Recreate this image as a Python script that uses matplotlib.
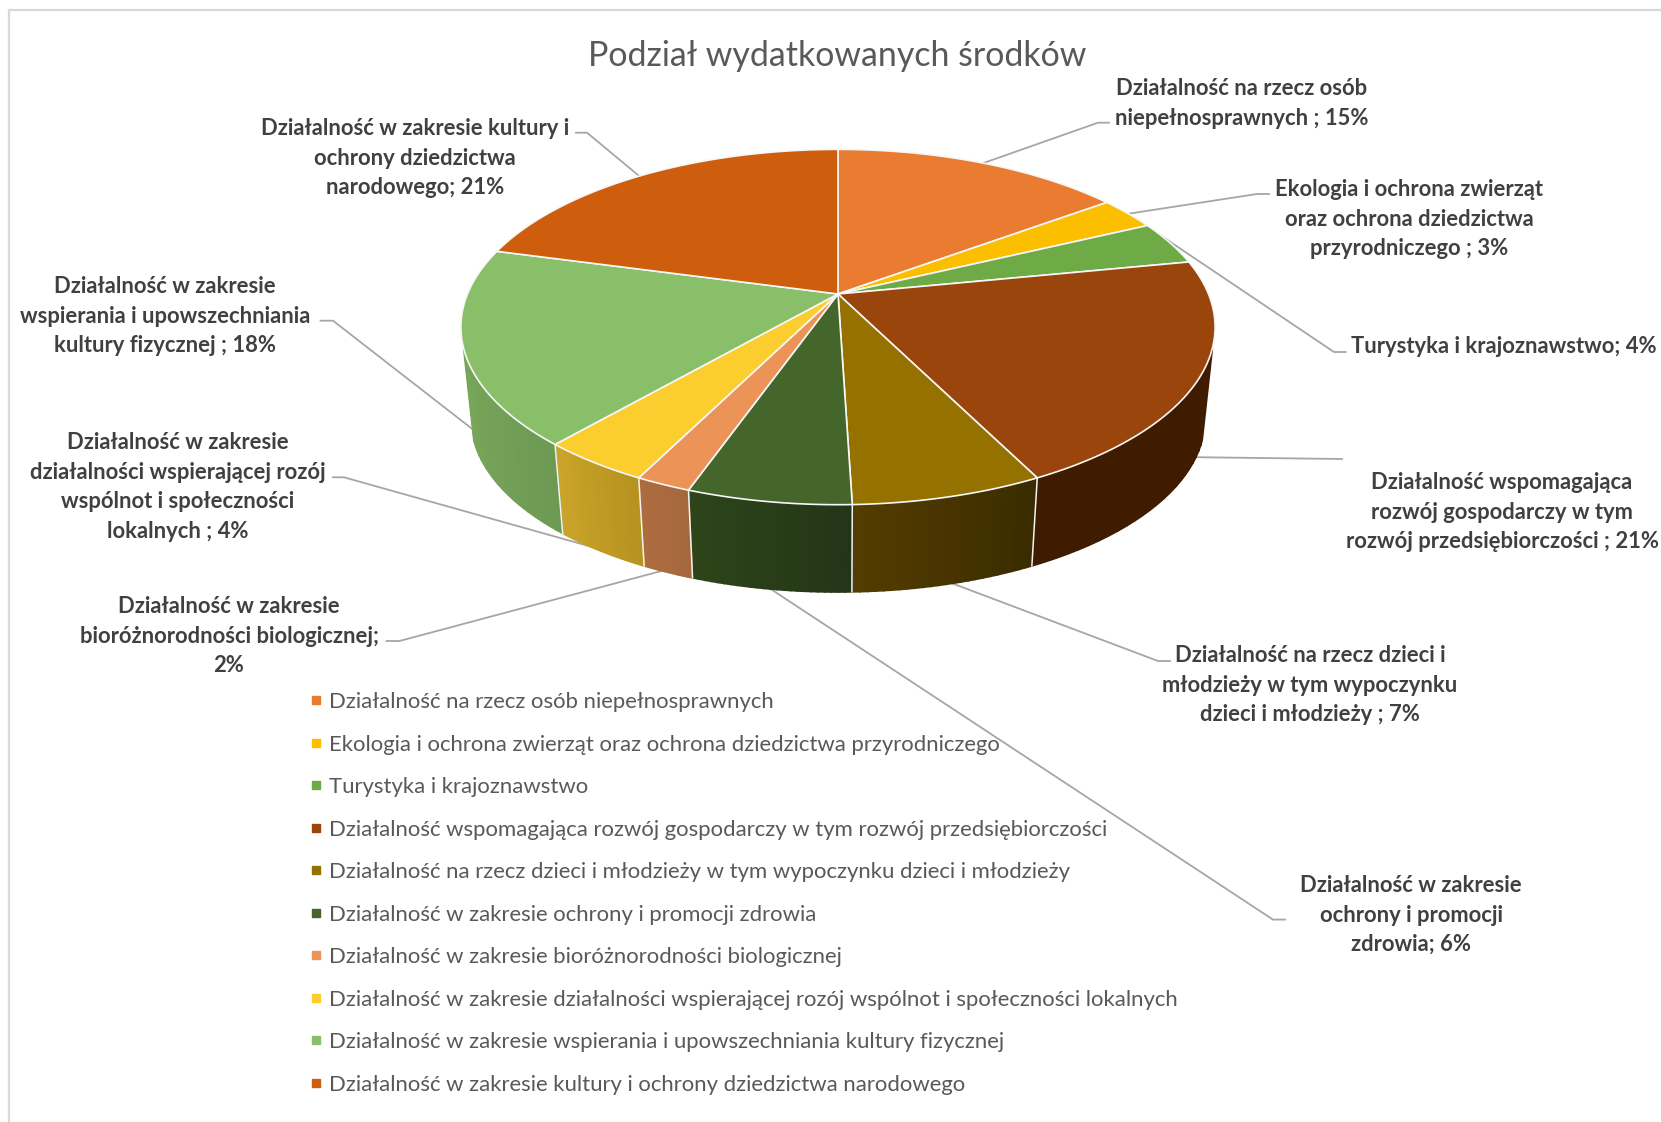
#3d pie of spending shares, drawn by hand because matplotlib has no perspective pie
import numpy as np
import matplotlib
matplotlib.use("Agg")
import matplotlib.pyplot as plt
from matplotlib.lines import Line2D
from matplotlib.patches import Polygon

plt.rcParams["font.family"] = ["Lato", "DejaVu Sans"]

TITLE = "Podział wydatkowanych środków"

categories = [
    "Działalność na rzecz osób niepełnosprawnych",
    "Ekologia i ochrona zwierząt oraz ochrona dziedzictwa przyrodniczego",
    "Turystyka i krajoznawstwo",
    "Działalność wspomagająca rozwój gospodarczy w tym rozwój przedsiębiorczości",
    "Działalność na rzecz dzieci i młodzieży w tym wypoczynku dzieci i młodzieży",
    "Działalność w zakresie ochrony i promocji zdrowia",
    "Działalność w zakresie bioróżnorodności biologicznej",
    "Działalność w zakresie działalności wspierającej rozój wspólnot i społeczności lokalnych",
    "Działalność w zakresie wspierania i upowszechniania kultury fizycznej",
    "Działalność w zakresie kultury i ochrony dziedzictwa narodowego",
]
shares = [14.9, 3.0, 4.0, 20.7, 6.9, 5.9, 2.0, 4.0, 17.8, 20.8]

label_lines = [
    ["Działalność na rzecz osób", "niepełnosprawnych ; 15%"],
    ["Ekologia i ochrona zwierząt", "oraz ochrona dziedzictwa", "przyrodniczego ; 3%"],
    ["Turystyka i krajoznawstwo; 4%"],
    ["Działalność wspomagająca", "rozwój gospodarczy w tym", "rozwój przedsiębiorczości ; 21%"],
    ["Działalność na rzecz dzieci i", "młodzieży w tym wypoczynku", "dzieci i młodzieży ; 7%"],
    ["Działalność w zakresie", "ochrony i promocji", "zdrowia; 6%"],
    ["Działalność w zakresie", "bioróżnorodności biologicznej;", "2%"],
    ["Działalność w zakresie", "działalności wspierającej rozój", "wspólnot i społeczności", "lokalnych ; 4%"],
    ["Działalność w zakresie", "wspierania i upowszechniania", "kultury fizycznej ; 18%"],
    ["Działalność w zakresie kultury i", "ochrony dziedzictwa", "narodowego; 21%"],
]

top_colors = ["#E97C30", "#FCBF00", "#6EAB46", "#9A450C", "#957200",
              "#44662A", "#EC9358", "#FBCD2F", "#8ABF69", "#CE5E0E"]
#side colours run left to right on screen, None = side is never seen
side_colors = [None, None, None, ("#3F1C00", "#3F1C00"), ("#3A2C00", "#553C00"),
               ("#233518", "#2D4519"), ("#A5683C", "#AD6C40"), ("#B5931F", "#CBA42A"),
               ("#6C9A53", "#78A75A"), None]

#label layout in pixels: centre x, first baseline y
label_pos = [(1242, 95), (1409, 196), (1504, 353), (1502, 489), (1310, 662),
             (1411, 892), (229, 613), (178, 449), (165, 293), (415, 135)]
leaders = [
    [(975, 166), (1098, 122.7), (1109, 122.7)],
    [(1120, 215), (1257, 194), (1269, 194)],
    [(1160, 235), (1334, 352), (1345.5, 352)],
    [(1180, 457), (1342, 459)],
    [(930, 575), (1158, 661), (1170, 661)],
    [(760, 582), (1273, 919.6), (1285, 919.6)],
    [(680, 566), (399.5, 641), (386.6, 641)],
    [(610, 552), (344, 477.3), (333, 477.3)],
    [(480, 435), (333, 320.7), (320.5, 320.7)],
    [(650, 185), (587, 132.7), (576, 132.7)],
]

LINE_PITCH = 29.6

#perspective of the pie, in pixels
CX, CY = 838, 294
RX, RY, P = 370.5, 171.5, 0.186
BASE_Y, BASE_SCALE = 387, 0.973
SIDE_START, SIDE_END = 107.4, 252.6


def project(theta, scale=1.0, cy=CY):
    #theta is degrees clockwise from the top of the pie
    t = np.radians(theta)
    u, v = np.sin(t), -np.cos(t)
    w = 1 - P * v
    return CX + scale * RX * u / w, cy + scale * RY * v / w


def mix(c1, c2, f):
    a = np.array(matplotlib.colors.to_rgb(c1))
    b = np.array(matplotlib.colors.to_rgb(c2))
    return tuple(a + (b - a) * f)


fig = plt.figure(figsize=(16.61, 11.22), dpi=100)
ax = fig.add_axes([0, 0, 1, 1])
ax.set_xlim(0, 1661)
ax.set_ylim(1122, 0)
ax.axis("off")

#chart frame, only the left and top edges are in the picture
ax.plot([9, 9, 1661], [1122, 10, 10], color="#D9D9D9", lw=1.6, solid_joinstyle="miter", zorder=1)

for pts in leaders:
    xs, ys = zip(*pts)
    ax.plot(xs, ys, color="#A6A6A6", lw=1.3, zorder=2)

edges = np.concatenate([[0], np.cumsum(shares)]) / sum(shares) * 360

#sides, cut in thin strips for the gradient
for i, colors in enumerate(side_colors):
    if colors is None:
        continue
    a = max(edges[i], SIDE_START)
    b = min(edges[i + 1], SIDE_END)
    steps = np.linspace(a, b, 25)
    for j in range(len(steps) - 1):
        th = np.linspace(steps[j], steps[j + 1], 4)
        x1, y1 = project(th)
        x2, y2 = project(th[::-1], BASE_SCALE, BASE_Y)
        c = mix(colors[0], colors[1], j / 23)
        ax.add_patch(Polygon(np.column_stack([np.r_[x1, x2], np.r_[y1, y2]]),
                             facecolor=c, edgecolor=c, lw=1.2, zorder=3))

#white lines between the sides
for e in edges[1:-1]:
    if SIDE_START < e < SIDE_END:
        x1, y1 = project(e)
        x2, y2 = project(e, BASE_SCALE, BASE_Y)
        ax.plot([x1, x2], [y1, y2], color="#F2F2F2", lw=1.1, zorder=4)

#top face
for i, c in enumerate(top_colors):
    th = np.linspace(edges[i], edges[i + 1], 120)
    x, y = project(th)
    ax.add_patch(Polygon(np.column_stack([np.r_[CX, x], np.r_[CY, y]]),
                         facecolor=c, edgecolor="#F7F7F7", lw=1.2, joinstyle="round", zorder=5))

ax.text(837, 66, TITLE, fontsize=24.4, color="#595959", ha="center", va="baseline", zorder=6)

for lines, (lx, ly) in zip(label_lines, label_pos):
    for n, line in enumerate(lines):
        ax.text(lx, ly + n * LINE_PITCH, line, fontsize=15.8, fontweight="bold", color="#404040",
                ha="center", va="baseline", zorder=6)

handles = [Line2D([], [], linestyle="None", marker="s", markersize=6, color=c) for c in top_colors]
ax.legend(handles, categories, loc="upper left", bbox_to_anchor=(310.5, 692),
          bbox_transform=ax.transData, frameon=False, fontsize=15.9, labelcolor="#595959",
          labelspacing=1.02, handlelength=0.5, handletextpad=0.34, borderpad=0, borderaxespad=0)

fig.savefig("out.png", dpi=100)
